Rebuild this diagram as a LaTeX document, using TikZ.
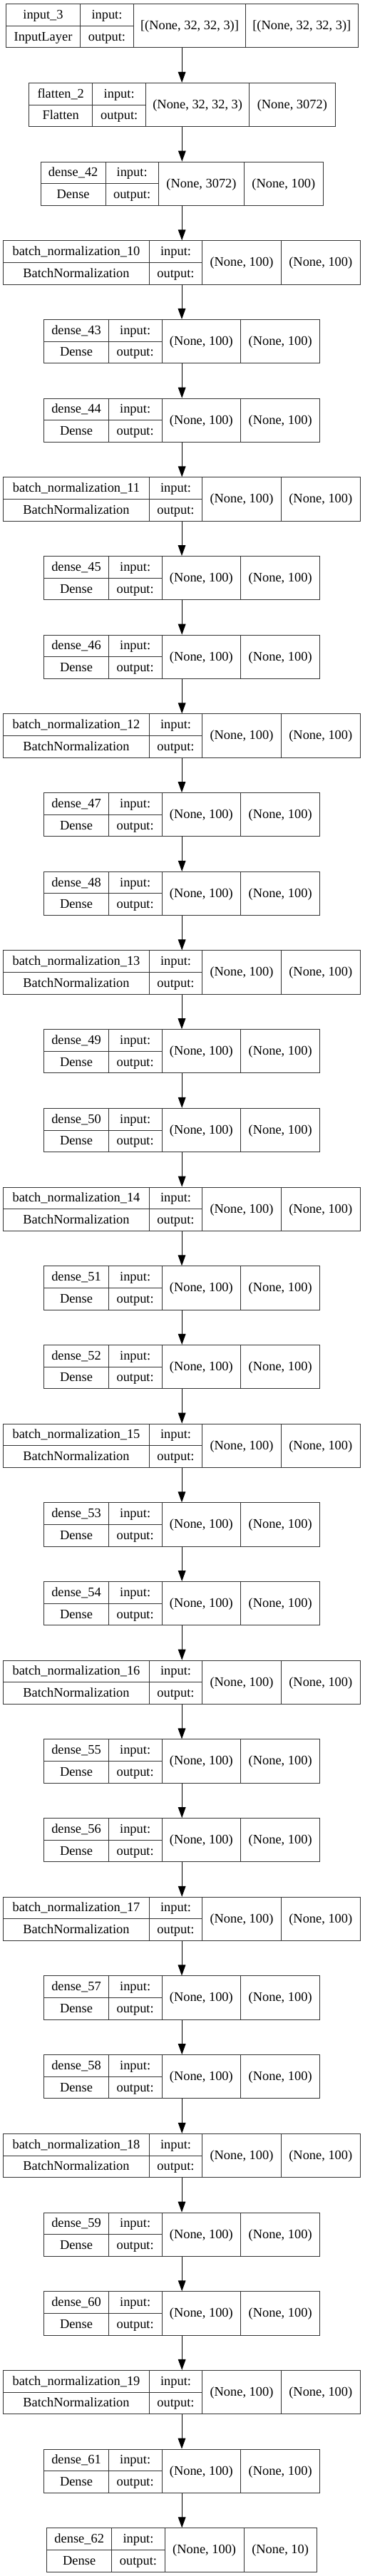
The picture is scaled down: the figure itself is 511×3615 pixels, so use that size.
\documentclass[tikz,border=0pt]{standalone}
\usepackage{fontspec}
\setmainfont{Liberation Serif}
\usetikzlibrary{arrows.meta,fit}
\newcommand\ltInput{\def\xa{8.3}\def\xb{112.7}\def\xc{187.3}\def\xd{344.7}\def\xe{502}}
\newcommand\ltFlatten{\def\xa{40.7}\def\xb{129.7}\def\xc{204.7}\def\xd{349.7}\def\xe{470}}
\newcommand\ltDenseA{\def\xa{57.3}\def\xb{148}\def\xc{222.3}\def\xd{342.7}\def\xe{453}}
\newcommand\ltBN{\def\xa{4.7}\def\xb{209.3}\def\xc{283.7}\def\xd{394.3}\def\xe{505.3}}
\newcommand\ltDense{\def\xa{61.7}\def\xb{152.3}\def\xc{227}\def\xd{337.7}\def\xe{448.7}}
\newcommand\ltDenseZ{\def\xa{65.7}\def\xb{156.7}\def\xc{231.3}\def\xd{342}\def\xe{444.3}}
\newcommand\layerbox[7]{%
  \csname lt#3\endcsname
  \pgfmathsetmacro\yt{5.7+#2*110.69}%
  \pgfmathsetmacro\yb{\yt+61.3}%
  \pgfmathsetmacro\ym{\yt+30.65}%
  \coordinate (#1-nw) at (\xa,\yt);
  \coordinate (#1-se) at (\xe,\yb);
  \node[layerframe,fit=(#1-nw)(#1-se)] (#1) {};
  \draw[divline] (\xb,\yt) -- (\xb,\yb) (\xc,\yt) -- (\xc,\yb) (\xd,\yt) -- (\xd,\yb) (\xa,\ym) -- (\xc,\ym);
  \node[lbl] (#1-name) at ({(\xa+\xb)/2},{\yt+20.7}) {#4};
  \node[lbl] (#1-class) at ({(\xa+\xb)/2},{\yt+51.5}) {#5};
  \node[lbl] (#1-inl) at ({(\xb+\xc)/2},{\yt+20.7}) {input:};
  \node[lbl] (#1-outl) at ({(\xb+\xc)/2},{\yt+51.5}) {output:};
  \node[lbl] (#1-in) at ({(\xc+\xd)/2},{\yt+36}) {#6};
  \node[lbl] (#1-out) at ({(\xd+\xe)/2},{\yt+36}) {#7};
}
\begin{document}
\begin{tikzpicture}[x=0.75pt,y=-0.75pt,
  divline/.style={draw=black!80, line width=0.75pt},
  layerframe/.style={draw=black!80, line width=0.75pt, inner sep=0pt},
  lbl/.style={inner sep=0pt, anchor=base, font=\fontsize{13.8pt}{16pt}\selectfont},
  flow/.style={-{Triangle[length=11.25pt,width=8pt]}, line width=0.75pt, black}]
\useasboundingbox (0,0) rectangle (511,3615);
\layerbox{L0}{0}{Input}{input\_3}{InputLayer}{[(None, 32, 32, 3)]}{[(None, 32, 32, 3)]}
\layerbox{L1}{1}{Flatten}{flatten\_2}{Flatten}{(None, 32, 32, 3)}{(None, 3072)}
\layerbox{L2}{2}{DenseA}{dense\_42}{Dense}{(None, 3072)}{(None, 100)}
\foreach \k in {0,...,8}{%
  \pgfmathtruncatemacro\ia{3+3*\k}%
  \pgfmathtruncatemacro\ib{4+3*\k}%
  \pgfmathtruncatemacro\ic{5+3*\k}%
  \pgfmathtruncatemacro\nbn{10+\k}%
  \pgfmathtruncatemacro\nda{43+2*\k}%
  \pgfmathtruncatemacro\ndb{44+2*\k}%
  \layerbox{L\ia}{\ia}{BN}{batch\_normalization\_\nbn}{BatchNormalization}{(None, 100)}{(None, 100)}
  \layerbox{L\ib}{\ib}{Dense}{dense\_\nda}{Dense}{(None, 100)}{(None, 100)}
  \layerbox{L\ic}{\ic}{Dense}{dense\_\ndb}{Dense}{(None, 100)}{(None, 100)}
}
\layerbox{L30}{30}{BN}{batch\_normalization\_19}{BatchNormalization}{(None, 100)}{(None, 100)}
\layerbox{L31}{31}{Dense}{dense\_61}{Dense}{(None, 100)}{(None, 100)}
\layerbox{L32}{32}{DenseZ}{dense\_62}{Dense}{(None, 100)}{(None, 10)}
\foreach \i in {0,...,31}{%
  \pgfmathtruncatemacro\j{\i+1}%
  \draw[flow] (L\i.south) -- (L\i.south |- L\j.north);
}
\end{tikzpicture}
\end{document}
